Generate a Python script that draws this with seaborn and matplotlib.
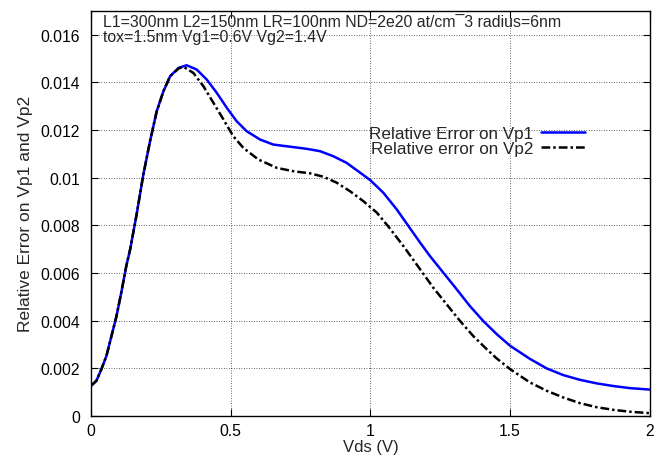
import pandas as pd
import seaborn as sns
import matplotlib.pyplot as plt
from matplotlib.ticker import FuncFormatter

# Values
vds_vp1 = [0.0, 0.019, 0.037, 0.055, 0.073, 0.091, 0.108, 0.126, 0.140, 0.163, 0.187,
           0.211, 0.235, 0.259, 0.283, 0.313, 0.342, 0.378, 0.414, 0.450, 0.486,
           0.521, 0.557, 0.605, 0.652, 0.712, 0.772, 0.820, 0.867, 0.915, 0.963,
           0.999, 1.046, 1.094, 1.136, 1.178, 1.213, 1.261, 1.309, 1.356, 1.404,
           1.452, 1.500, 1.571, 1.631, 1.690, 1.750, 1.810, 1.869, 1.929, 2.0]
err_vp1 = [0.00126, 0.00147, 0.00196, 0.00252, 0.00335, 0.00419, 0.00517, 0.00629,
           0.00700, 0.00846, 0.01013, 0.01153, 0.01279, 0.01363, 0.01426, 0.01461,
           0.01472, 0.01454, 0.01412, 0.01356, 0.01293, 0.01237, 0.01195, 0.01160,
           0.01139, 0.01130, 0.01121, 0.01111, 0.01090, 0.01062, 0.01021, 0.00990,
           0.00937, 0.00867, 0.00797, 0.00727, 0.00671, 0.00601, 0.00531, 0.00461,
           0.00398, 0.00343, 0.00294, 0.00239, 0.00199, 0.00171, 0.00151, 0.00136,
           0.00125, 0.00116, 0.00110]

vds_vp2 = [0.0, 0.019, 0.037, 0.055, 0.073, 0.091, 0.108, 0.126, 0.140, 0.163, 0.187,
           0.211, 0.235, 0.259, 0.283, 0.313, 0.330, 0.366, 0.402, 0.438, 0.474,
           0.509, 0.545, 0.599, 0.665, 0.724, 0.784, 0.831, 0.879, 0.927, 0.975,
           1.023, 1.064, 1.118, 1.178, 1.225, 1.273, 1.321, 1.368, 1.416, 1.452,
           1.500, 1.571, 1.631, 1.690, 1.750, 1.810, 1.869, 1.929, 2.0]
err_vp2 = [0.00126, 0.00147, 0.00196, 0.00252, 0.00335, 0.00419, 0.00517, 0.00629,
           0.00700, 0.00846, 0.01013, 0.01153, 0.01279, 0.01363, 0.01426, 0.01458,
           0.01466, 0.01440, 0.01384, 0.01314, 0.01244, 0.01174, 0.01125, 0.01076,
           0.01041, 0.01027, 0.01018, 0.01004, 0.00979, 0.00943, 0.00901, 0.00853,
           0.00795, 0.00713, 0.00615, 0.00538, 0.00468, 0.00398, 0.00335, 0.00280,
           0.00241, 0.00196, 0.00140, 0.00105, 0.00077, 0.00053, 0.00036, 0.00025,
           0.00017, 0.00011]

info_line1 = "L1=300nm L2=150nm LR=100nm ND=2e20 at/cm\u00af3 radius=6nm"
info_line2 = "tox=1.5nm Vg1=0.6V Vg2=1.4V"
y_ticks = [0, 0.002, 0.004, 0.006, 0.008, 0.01, 0.012, 0.014, 0.016]
x_ticks = [0, 0.5, 1, 1.5, 2]

if __name__ == "__main__":
    sns.set_style("ticks")
    plt.rcParams["font.family"] = ["Liberation Sans", "DejaVu Sans"]

    fig = plt.figure(figsize=(6.65, 4.6), dpi=100)
    ax = fig.add_axes([0.137, 0.094, 0.84, 0.880])

    df1 = pd.DataFrame({"Vds": vds_vp1, "err": err_vp1})
    df2 = pd.DataFrame({"Vds": vds_vp2, "err": err_vp2})
    sns.lineplot(data=df1, x="Vds", y="err", ax=ax, color="#0000ff", linewidth=1.8,
                 label="Relative Error on Vp1")
    sns.lineplot(data=df2, x="Vds", y="err", ax=ax, color="black", linewidth=1.8,
                 linestyle=(0, (3.5, 1.2, 1, 1.2)), label="Relative error on Vp2")

    fmt = FuncFormatter(lambda v, p: "%g" % round(v, 6))
    ax.set_xticks(x_ticks)
    ax.set_yticks(y_ticks)
    ax.xaxis.set_major_formatter(fmt)
    ax.yaxis.set_major_formatter(fmt)
    ax.set_xlim(0, 2)
    ax.set_ylim(0, 0.017)

    ax.grid(True, color="black", linestyle=(0, (1, 2)), linewidth=0.6, alpha=0.8)
    ax.tick_params(direction="in", top=True, right=True, length=5, width=0.8,
                   labelsize=11.3, colors="black")
    ax.tick_params(axis="y", pad=8)
    ax.tick_params(axis="x", pad=5)
    for s in ax.spines.values():
        s.set_linewidth(1.0)
        s.set_color("black")

    ax.set_xlabel("Vds (V)", fontsize=12, labelpad=1)
    ax.set_ylabel("Relative Error on Vp1 and Vp2", fontsize=12.5, labelpad=5)

    # two lines of run parameters, top left
    ax.text(0.022, 0.963, info_line1, transform=ax.transAxes, ha="left",
            va="baseline", fontsize=11.4)
    ax.text(0.022, 0.926, info_line2, transform=ax.transAxes, ha="left",
            va="baseline", fontsize=11.4)

    ax.legend(loc="center right", bbox_to_anchor=(0.90, 0.678), frameon=False,
              markerfirst=False, handlelength=2.6, handletextpad=0.45,
              labelspacing=0.0, fontsize=12.3, borderpad=0)

    fig.savefig("out.png", dpi=100)
